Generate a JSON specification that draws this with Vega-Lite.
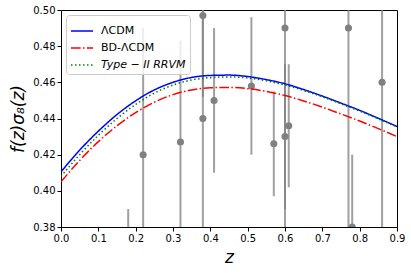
{
  "$schema": "https://vega.github.io/schema/vega-lite/v6.json",
  "width": 336,
  "height": 217,
  "autosize": "none",
  "padding": {"left": 61, "top": 10, "right": 14, "bottom": 47},
  "config": {
    "font": "DejaVu Sans",
    "view": {"stroke": "#000000", "strokeWidth": 1},
    "axis": {"grid": false, "domain": false, "tickColor": "#000", "labelColor": "#000", "labelFontSize": 10, "tickSize": 4, "titleColor": "#000", "titleFontWeight": "normal", "labelOverlap": false, "labelFlush": false}
  },
  "datasets": {
    "curves": [
      {"z": 0.00, "f": 0.4105, "model": "ΛCDM"},
      {"z": 0.05, "f": 0.4225, "model": "ΛCDM"},
      {"z": 0.10, "f": 0.4330, "model": "ΛCDM"},
      {"z": 0.15, "f": 0.4422, "model": "ΛCDM"},
      {"z": 0.20, "f": 0.4498, "model": "ΛCDM"},
      {"z": 0.25, "f": 0.4558, "model": "ΛCDM"},
      {"z": 0.30, "f": 0.4600, "model": "ΛCDM"},
      {"z": 0.35, "f": 0.4627, "model": "ΛCDM"},
      {"z": 0.40, "f": 0.4638, "model": "ΛCDM"},
      {"z": 0.45, "f": 0.4640, "model": "ΛCDM"},
      {"z": 0.50, "f": 0.4632, "model": "ΛCDM"},
      {"z": 0.55, "f": 0.4615, "model": "ΛCDM"},
      {"z": 0.60, "f": 0.4592, "model": "ΛCDM"},
      {"z": 0.65, "f": 0.4560, "model": "ΛCDM"},
      {"z": 0.70, "f": 0.4524, "model": "ΛCDM"},
      {"z": 0.75, "f": 0.4485, "model": "ΛCDM"},
      {"z": 0.80, "f": 0.4445, "model": "ΛCDM"},
      {"z": 0.85, "f": 0.4401, "model": "ΛCDM"},
      {"z": 0.90, "f": 0.4356, "model": "ΛCDM"},
      {"z": 0.00, "f": 0.4050, "model": "BD-ΛCDM"},
      {"z": 0.05, "f": 0.4168, "model": "BD-ΛCDM"},
      {"z": 0.10, "f": 0.4272, "model": "BD-ΛCDM"},
      {"z": 0.15, "f": 0.4360, "model": "BD-ΛCDM"},
      {"z": 0.20, "f": 0.4433, "model": "BD-ΛCDM"},
      {"z": 0.25, "f": 0.4490, "model": "BD-ΛCDM"},
      {"z": 0.30, "f": 0.4532, "model": "BD-ΛCDM"},
      {"z": 0.35, "f": 0.4558, "model": "BD-ΛCDM"},
      {"z": 0.40, "f": 0.4570, "model": "BD-ΛCDM"},
      {"z": 0.45, "f": 0.4572, "model": "BD-ΛCDM"},
      {"z": 0.50, "f": 0.4565, "model": "BD-ΛCDM"},
      {"z": 0.55, "f": 0.4550, "model": "BD-ΛCDM"},
      {"z": 0.60, "f": 0.4527, "model": "BD-ΛCDM"},
      {"z": 0.65, "f": 0.4497, "model": "BD-ΛCDM"},
      {"z": 0.70, "f": 0.4463, "model": "BD-ΛCDM"},
      {"z": 0.75, "f": 0.4425, "model": "BD-ΛCDM"},
      {"z": 0.80, "f": 0.4386, "model": "BD-ΛCDM"},
      {"z": 0.85, "f": 0.4344, "model": "BD-ΛCDM"},
      {"z": 0.90, "f": 0.4300, "model": "BD-ΛCDM"},
      {"z": 0.00, "f": 0.4080, "model": "Type − II RRVM"},
      {"z": 0.05, "f": 0.4200, "model": "Type − II RRVM"},
      {"z": 0.10, "f": 0.4307, "model": "Type − II RRVM"},
      {"z": 0.15, "f": 0.4400, "model": "Type − II RRVM"},
      {"z": 0.20, "f": 0.4478, "model": "Type − II RRVM"},
      {"z": 0.25, "f": 0.4540, "model": "Type − II RRVM"},
      {"z": 0.30, "f": 0.4585, "model": "Type − II RRVM"},
      {"z": 0.35, "f": 0.4613, "model": "Type − II RRVM"},
      {"z": 0.40, "f": 0.4626, "model": "Type − II RRVM"},
      {"z": 0.45, "f": 0.4630, "model": "Type − II RRVM"},
      {"z": 0.50, "f": 0.4624, "model": "Type − II RRVM"},
      {"z": 0.55, "f": 0.4608, "model": "Type − II RRVM"},
      {"z": 0.60, "f": 0.4585, "model": "Type − II RRVM"},
      {"z": 0.65, "f": 0.4555, "model": "Type − II RRVM"},
      {"z": 0.70, "f": 0.4520, "model": "Type − II RRVM"},
      {"z": 0.75, "f": 0.4481, "model": "Type − II RRVM"},
      {"z": 0.80, "f": 0.4441, "model": "Type − II RRVM"},
      {"z": 0.85, "f": 0.4398, "model": "Type − II RRVM"},
      {"z": 0.90, "f": 0.4354, "model": "Type − II RRVM"}
    ],
    "obs": [
      {"z": 0.18, "f": 0.29, "lo": 0.19, "hi": 0.39},
      {"z": 0.22, "f": 0.42, "lo": 0.35, "hi": 0.49},
      {"z": 0.32, "f": 0.427, "lo": 0.371, "hi": 0.483},
      {"z": 0.38, "f": 0.497, "lo": 0.452, "hi": 0.542},
      {"z": 0.38, "f": 0.44, "lo": 0.38, "hi": 0.50},
      {"z": 0.41, "f": 0.45, "lo": 0.41, "hi": 0.49},
      {"z": 0.51, "f": 0.458, "lo": 0.420, "hi": 0.496},
      {"z": 0.57, "f": 0.426, "lo": 0.397, "hi": 0.455},
      {"z": 0.60, "f": 0.43, "lo": 0.39, "hi": 0.47},
      {"z": 0.60, "f": 0.49, "lo": 0.37, "hi": 0.61},
      {"z": 0.61, "f": 0.436, "lo": 0.402, "hi": 0.470},
      {"z": 0.77, "f": 0.49, "lo": 0.31, "hi": 0.67},
      {"z": 0.78, "f": 0.38, "lo": 0.34, "hi": 0.42},
      {"z": 0.86, "f": 0.46, "lo": 0.37, "hi": 0.55}
    ]
  },
  "encoding": {
    "x": {
      "field": "z", "type": "quantitative",
      "scale": {"domain": [0, 0.9], "nice": false, "zero": false},
      "axis": {"values": [0, 0.1, 0.2, 0.3, 0.4, 0.5, 0.6, 0.7, 0.8, 0.9], "format": ".1f", "labelOverlap": false, "labelFlush": false, "title": "z", "titleFontSize": 17, "titleFontStyle": "italic", "titlePadding": 6}
    },
    "y": {
      "field": "f", "type": "quantitative",
      "scale": {"domain": [0.38, 0.5], "nice": false, "zero": false},
      "axis": {"values": [0.38, 0.4, 0.42, 0.44, 0.46, 0.48, 0.5], "format": ".2f", "labelOverlap": false, "labelFlush": false, "title": "f(z)σ₈(z)", "titleFontSize": 17, "titleFontStyle": "italic", "titlePadding": 5}
    }
  },
  "layer": [
    {
      "data": {"name": "obs"},
      "mark": {"type": "rule", "clip": true, "color": "#808080", "opacity": 0.75, "strokeWidth": 2},
      "encoding": {
        "y": {
          "field": "lo", "type": "quantitative",
          "scale": {"domain": [0.38, 0.5], "nice": false, "zero": false},
          "axis": {"values": [0.38, 0.4, 0.42, 0.44, 0.46, 0.48, 0.5], "format": ".2f", "labelOverlap": false, "labelFlush": false, "title": "f(z)σ₈(z)", "titleFontSize": 17, "titleFontStyle": "italic", "titlePadding": 5}
        },
        "y2": {"field": "hi"}
      }
    },
    {
      "data": {"name": "obs"},
      "mark": {"type": "point", "filled": true, "clip": true, "color": "#808080", "opacity": 1, "size": 50}
    },
    {
      "data": {"name": "curves"},
      "mark": {"type": "line", "clip": true, "strokeWidth": 1.5, "interpolate": "monotone"},
      "encoding": {
        "color": {
          "field": "model", "type": "nominal",
          "scale": {"domain": ["ΛCDM", "BD-ΛCDM", "Type − II RRVM"], "range": ["#0000ff", "#ff0000", "#008000"]},
          "legend": {
            "title": null, "orient": "top-left", "offset": 5,
            "symbolType": "stroke", "symbolSize": 484, "symbolStrokeWidth": 1.5,
            "labelFontSize": 11, "labelColor": "#000", "labelOffset": 7, "rowPadding": -4.5,
            "fillColor": "rgba(255,255,255,0.8)", "strokeColor": "#cccccc", "cornerRadius": 3, "padding": 4,
            "encode": {"labels": {"update": {"fontStyle": {"signal": "datum.label == 'Type − II RRVM' ? 'italic' : 'normal'"}}}}
          }
        },
        "strokeDash": {
          "field": "model", "type": "nominal",
          "scale": {"domain": ["ΛCDM", "BD-ΛCDM", "Type − II RRVM"], "range": [[1, 0], [9.6, 2.4, 1.5, 2.4], [1.5, 2.5]]},
          "legend": {"title": null}
        }
      }
    }
  ]
}
